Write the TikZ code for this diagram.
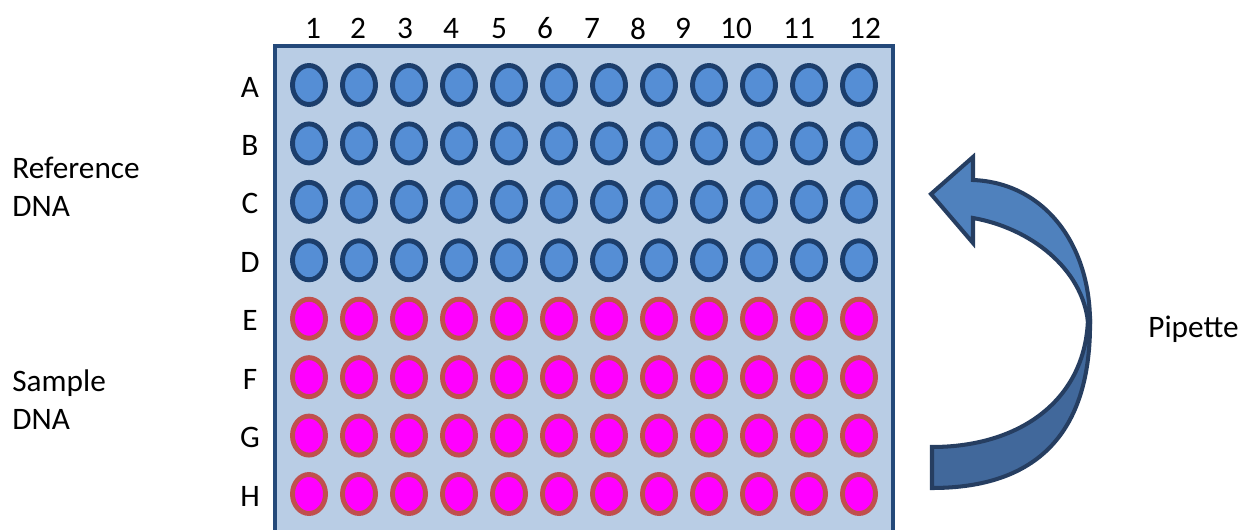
\documentclass[tikz,border=0pt]{standalone}
\usepackage{fontspec}
\setmainfont{Carlito}
\usepackage{tikz}
\usetikzlibrary{shapes.geometric}

\definecolor{platefill}{RGB}{185,205,229}
\definecolor{plateline}{RGB}{36,73,122}
\definecolor{reffill}{RGB}{85,142,213}
\definecolor{refline}{RGB}{28,62,108}
\definecolor{samfill}{RGB}{255,0,255}
\definecolor{samline}{RGB}{192,80,77}
\definecolor{arrowlight}{RGB}{79,129,189}
\definecolor{arrowdark}{RGB}{65,104,155}
\definecolor{arrowline}{RGB}{38,62,97}

\begin{document}
\begin{tikzpicture}[x=0.02cm,y=-0.02cm,
		lbl/.style={font=\fontsize{17.8pt}{22pt}\selectfont,inner sep=0pt},
		well/.style={ellipse,minimum width=0.66cm,minimum height=0.78cm,inner sep=0pt,line width=2.8pt},
		refwell/.style={well,draw=refline,fill=reffill},
		samwell/.style={well,draw=samline,fill=samfill},
		pipearrow/.style={draw=arrowline,line width=2.3pt,line join=miter}]
			\def\xo{309}
			\def\yo{85}
			\def\dx{50}
			\def\dy{58.43}
			
			\useasboundingbox (0,0) rectangle (1242,530);
			\clip (0,0) rectangle (1242,530);
			
			\draw[draw=plateline,fill=platefill,line width=2.8pt] (275,46) rectangle (893,580);
			
			\foreach \c/\x in {1/313,2/358,3/405,4/451,5/499,6/545,7/592,8/638,9/683,10/736,11/799,12/865}
				\node[lbl] (col-\c) at (\x,28.5) {\c};
			
			\foreach \r [count=\i] in {A,B,C,D,E,F,G,H}{
				\ifnum\i<5 \def\kind{refwell}\else\def\kind{samwell}\fi
				\node[lbl] (row-\r) at (250,{\yo+(\i-1)*\dy+2}) {\r};
				\foreach \c in {1,...,12}
					\node[\kind] (w-\r\c) at ({\xo+(\c-1)*\dx},{\yo+(\i-1)*\dy}) {};
			}
			
			\node[lbl,anchor=base west,align=left] (refdna) at (12,217) {Reference\\DNA};
			\node[lbl,anchor=base west,align=left] (samdna) at (12,430) {Sample\\DNA};
			\node[lbl,anchor=base west] (pipette) at (1148,338) {Pipette};
			
			\draw[pipearrow,fill=arrowdark] (1090,318) .. controls (1092,435) and (1035,488) .. (932,488)
				-- (932,447) .. controls (1020,447) and (1086,400) .. (1088,318) -- cycle;
			\draw[pipearrow,fill=arrowlight] (1090,322) .. controls (1090,245) and (1045,183) .. (973,180)
				-- (973,157) -- (931,194) -- (973,243) -- (973,218)
				.. controls (1030,228) and (1082,268) .. (1088,322) -- cycle;
		\end{tikzpicture}
\end{document}
